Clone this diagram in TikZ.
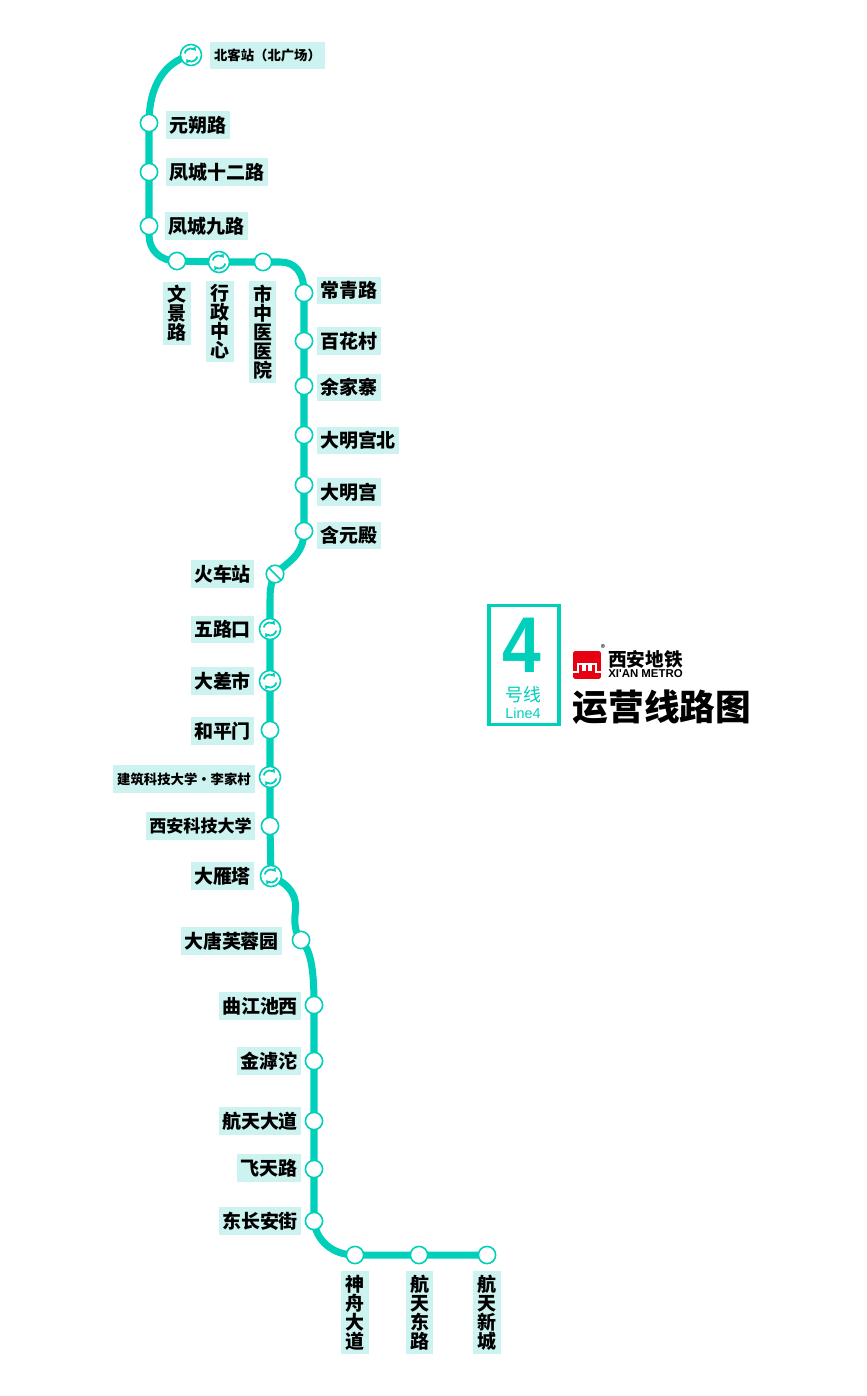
\documentclass[tikz,border=0pt]{standalone}
\usepackage{fontspec}
\setmainfont{Noto Sans CJK SC}
\newfontfamily\latinfont{Liberation Sans}
\usetikzlibrary{arrows.meta,backgrounds}
\definecolor{linefour}{HTML}{00CFBA}
\definecolor{labelbg}{HTML}{CCF3EF}
\definecolor{metrored}{HTML}{E60012}
\tikzset{
  stn/.style={circle,draw=linefour,fill=white,line width=0.9pt,inner sep=0pt,minimum size=9.8pt},
  ring/.style={line width=1pt,draw=linefour,-{Latex[length=2.2pt,width=3.4pt]}},
  xfer/.style={stn,minimum size=12pt,path picture={
      \draw[ring] ([shift={(-3.6pt,0.9pt)}]path picture bounding box.center) arc[start angle=166,end angle=40,radius=3.7pt];
      \draw[ring] ([shift={(3.6pt,-0.9pt)}]path picture bounding box.center) arc[start angle=-14,end angle=-140,radius=3.7pt];}},
  rail/.style={stn,minimum size=10pt,path picture={
      \draw[linefour,line width=1pt] (path picture bounding box.north west) -- (path picture bounding box.south east);}},
  lbl/.style={fill=labelbg,minimum height=15.9pt,inner xsep=2pt,inner ysep=0pt,font=\fontsize{10.8}{10.8}\selectfont\bfseries},
  lblsm/.style={lbl,inner xsep=2.6pt,font=\fontsize{7.6}{7.6}\selectfont\bfseries},
  lblmid/.style={lbl,font=\fontsize{9.7}{9.7}\selectfont\bfseries},
  lblv/.style={lbl,align=center,minimum width=15.9pt,inner xsep=0pt,inner ysep=2pt},
  line4/.style={draw=linefour,line width=4pt}
}
\begin{document}
\begin{tikzpicture}[x=0.02cm,y=-0.02cm]
\useasboundingbox (0,0) rectangle (866,1396);
% stations
\foreach \i/\st/\x/\y in {1/xfer/191/55,2/stn/149/123,3/stn/149/172,4/stn/149/226,5/stn/177/261,
    6/xfer/219/262,7/stn/263/262,8/stn/304/293,9/stn/304/341,10/stn/304/386,11/stn/304/435,
    12/stn/304/485,13/stn/304/531,14/rail/275/574,15/xfer/270/629,16/xfer/270/681,17/stn/270/730,
    18/xfer/270/777,19/stn/270/826,20/xfer/271/876,21/stn/301/940,22/stn/314/1005,23/stn/314/1061,
    24/stn/314/1121,25/stn/314/1169,26/stn/314/1221,27/stn/355/1255,28/stn/419/1255,29/stn/487/1255}
  \node[\st] (s\i) at (\x,\y) {};
% names
\foreach \i/\st/\x/\y/\txt in {1/lblsm/267.5/55.5/北客站（北广场）,2/lbl/198/125/元朔路,3/lbl/217/172/凤城十二路,
    4/lbl/206.5/226/凤城九路,5/lblv/177/313.5/{文\\景\\路},6/lblv/220/321.5/{行\\政\\中\\心},
    7/lblv/262.5/332/{市\\中\\医\\医\\院},8/lbl/349/290.5/常青路,9/lbl/349/341/百花村,10/lbl/349/387.5/余家寨,
    11/lbl/358/440.5/大明宫北,12/lbl/349/492/大明宫,13/lbl/349/535.5/含元殿,14/lbl/222.5/574/火车站,
    15/lbl/222.5/629.5/五路口,16/lbl/222.5/681/大差市,17/lbl/222.5/731/和平门,18/lblsm/184/779/建筑科技大学·李家村,
    19/lblmid/200.5/826/西安科技大学,20/lbl/222.5/876/大雁塔,21/lbl/231.5/941/大唐芙蓉园,22/lbl/260/1006/曲江池西,
    23/lbl/269/1061/金滹沱,24/lbl/260/1121/航天大道,25/lbl/269/1168/飞天路,26/lbl/260/1221/东长安街,
    27/lblv/355/1312.5/{神\\舟\\大\\道},28/lblv/419.5/1312.5/{航\\天\\东\\路},29/lblv/487/1312.5/{航\\天\\新\\城}}
  \node[\st] (t\i) at (\x,\y) {\txt};
% the line itself
\begin{scope}[on background layer]
  \draw[line4] (s1.center) .. controls (165,62) and (149,85) .. (s2.center) -- (s4.center)
    -- (149,235) .. controls (149,250) and (160,261) .. (s5.center) -- (s6.center) -- (s7.center)
    -- (280,262) .. controls (295,262) and (304,272) .. (s8.center) -- (s13.center)
    .. controls (304,555) and (288,562) .. (s14.center) .. controls (271,582) and (270,590) .. (270,600) -- (s15.center)
    -- (s19.center) -- (s20.center) .. controls (290,885) and (298,895) .. (295,915)
    .. controls (294,928) and (297,935) .. (s21.center) .. controls (310,950) and (314,965) .. (s22.center)
    -- (s26.center) .. controls (316,1240) and (332,1255) .. (s27.center) -- (s29.center);
\end{scope}
% line badge
\node[draw=linefour,line width=2pt,minimum width=40pt,minimum height=67.5pt,inner sep=0pt] (badge) at (524,665) {};
\node[transform shape,xscale=0.88,text=linefour,font=\latinfont\fontsize{45}{45}\selectfont\bfseries,inner sep=0pt] (num) at (522,645) {4};
\node[text=linefour,font=\fontsize{10.2}{10.2}\selectfont,inner sep=0pt] (hao) at (523,695) {号线};
\node[text=linefour,font=\latinfont\fontsize{8.2}{8.2}\selectfont,inner sep=0pt] (eng) at (523,713) {Line4};
% logo
\node[fill=metrored,rounded corners=1pt,minimum size=15.9pt,inner sep=0pt] (logo) at (587,665) {};
\draw[white,line width=1.1pt] (573,672) -- (578,672) -- (578,664) -- (583,664) -- (583,670) -- (585,670) -- (585,664)
  -- (589,664) -- (589,670) -- (591,670) -- (591,664) -- (596,664) -- (596,672) -- (601,672);
\node[font=\fontsize{5}{5}\selectfont,inner sep=0pt] (reg) at (603,648) {®};
\node[font=\fontsize{10.6}{10.6}\selectfont\bfseries,inner sep=0pt] (xa) at (645.5,659.5) {西安地铁};
\node[font=\latinfont\fontsize{6.5}{6.5}\selectfont\bfseries,inner sep=0pt] (xm) at (645.5,674) {XI'AN METRO};
\node[font=\fontsize{20.3}{20.3}\selectfont\bfseries,inner sep=0pt] (title) at (662,707) {运营线路图};
\end{tikzpicture}
\end{document}
